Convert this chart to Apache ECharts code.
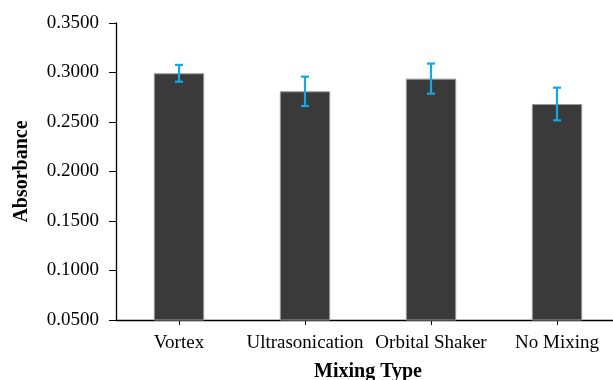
<!DOCTYPE html>
<html><head><meta charset="utf-8">
<script src="https://cdn.jsdelivr.net/npm/echarts@6/dist/echarts.min.js"></script>
<style>html,body{margin:0;padding:0;background:#fff}#c{width:613px;height:380px}</style>
</head><body><div id="c"></div>
<script>
const categories = ['Vortex', 'Ultrasonication', 'Orbital Shaker', 'No Mixing'];
const absorbance = [0.2992, 0.2810, 0.2938, 0.2682];
const errors = [0.0085, 0.0148, 0.0152, 0.0165];
const yTicks = [0.05, 0.10, 0.15, 0.20, 0.25, 0.30, 0.35];

const font = '"Liberation Serif", "Times New Roman", serif';
const chart = echarts.init(document.getElementById('c'));
chart.setOption({
  animation: false,
  grid: { left: 116, right: -7, top: 23, bottom: 60, containLabel: false, outerBoundsMode: 'none' },
  xAxis: {
    type: 'category', data: categories,
    name: 'Mixing Type', nameLocation: 'middle', nameGap: 42,
    nameTextStyle: { fontFamily: font, fontSize: 20, fontWeight: 'bold', color: '#000' },
    axisLine: { lineStyle: { color: '#000', width: 1.3 } },
    axisTick: { show: true, alignWithLabel: true, length: 5, lineStyle: { color: '#000' } },
    axisLabel: { fontFamily: font, fontSize: 19, color: '#000', margin: 14, interval: 0 }
  },
  yAxis: {
    type: 'value', min: yTicks[0], max: yTicks[yTicks.length - 1], interval: 0.05,
    name: 'Absorbance', nameLocation: 'middle', nameGap: 84,
    nameTextStyle: { fontFamily: font, fontSize: 20, fontWeight: 'bold', color: '#000' },
    axisLine: { show: true, lineStyle: { color: '#000', width: 1.3 } },
    axisTick: { show: true, length: 7, lineStyle: { color: '#000' } },
    splitLine: { show: false },
    axisLabel: { fontFamily: font, fontSize: 19, color: '#000', margin: 17,
      formatter: v => v.toFixed(4) }
  },
  series: [
    {
      type: 'bar', data: absorbance, barWidth: '40%',
      itemStyle: { color: '#3a3a3a', borderColor: '#9a9a9a', borderWidth: 1 }
    },
    {
      type: 'custom',
      data: absorbance.map((v, i) => [i, v - errors[i], v + errors[i]]),
      renderItem: function (params, api) {
        const lo = api.coord([api.value(0), api.value(1)]);
        const hi = api.coord([api.value(0), api.value(2)]);
        const w = 4;
        const st = { stroke: '#12a8e6', lineWidth: 2.2 };
        return { type: 'group', children: [
          { type: 'line', shape: { x1: lo[0], y1: lo[1], x2: hi[0], y2: hi[1] }, style: st },
          { type: 'line', shape: { x1: lo[0] - w, y1: lo[1], x2: lo[0] + w, y2: lo[1] }, style: st },
          { type: 'line', shape: { x1: hi[0] - w, y1: hi[1], x2: hi[0] + w, y2: hi[1] }, style: st }
        ]};
      },
      z: 10
    }
  ]
});
</script></body></html>
